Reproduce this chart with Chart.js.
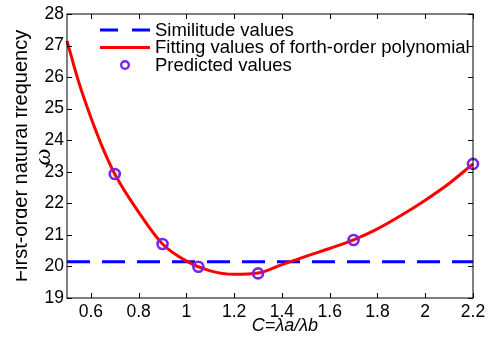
<!DOCTYPE html>
<html><head><meta charset="utf-8">
<script src="https://cdn.jsdelivr.net/npm/chart.js@4/dist/chart.umd.min.js"></script>
<style>html,body{margin:0;padding:0;background:#fff;overflow:hidden}#wrap{width:501px;height:341px;position:relative}canvas{display:block}</style>
</head><body><div id="wrap"><canvas id="c" width="501" height="341"></canvas></div>
<script>
// ---- data ----
const fitX = [0.5, 0.55, 0.6, 0.65, 0.7, 0.8, 0.9, 1.0, 1.1, 1.2, 1.3, 1.4, 1.5, 1.6, 1.7, 1.8, 1.9, 2.0, 2.1, 2.2];
const fitY = [27.15, 25.82, 24.72, 23.75, 22.93, 21.72, 20.71, 20.17, 19.86, 19.75, 19.79, 20.06, 20.32, 20.57, 20.84, 21.19, 21.62, 22.1, 22.63, 23.25];
const predX = [0.7, 0.9, 1.05, 1.3, 1.7, 2.2];
const predY = [22.93, 20.71, 19.99, 19.78, 20.84, 23.25];
const simX = [0.5, 2.2];
const simY = [20.15, 20.15];
const xTicks = [0.6, 0.8, 1, 1.2, 1.4, 1.6, 1.8, 2, 2.2];
const yTicks = [19, 20, 21, 22, 23, 24, 25, 26, 27, 28];
const legendLabels = ["Similitude values", "Fitting values of forth-order polynomial", "Predicted values"];
const xTitle = "C=\u03BBa/\u03BBb";
const yTitle = "First-order natural frequency";
const ySymbol = "\u03C9";

const FONT = "'Liberation Sans', Arial, sans-serif";
const BLUE = "#0000ff", RED = "#ff0000", PURPLE = "rgb(122,36,232)";

const toPts = (xs, ys) => xs.map((x, i) => ({x: x, y: ys[i]}));

const decor = {
  id: 'decor',
  afterDraw(chart) {
    const ctx = chart.ctx, a = chart.chartArea;
    const xs = chart.scales.x, ys = chart.scales.y;
    ctx.save();
    // box
    ctx.strokeStyle = '#000'; ctx.lineWidth = 1;
    ctx.strokeRect(a.left, a.top, a.right - a.left, a.bottom - a.top);
    // inner ticks
    const L = 5;
    ctx.beginPath();
    xTicks.forEach(v => {
      const px = Math.round(xs.getPixelForValue(v)) + 0.5;
      ctx.moveTo(px, a.bottom); ctx.lineTo(px, a.bottom - L);
      ctx.moveTo(px, a.top); ctx.lineTo(px, a.top + L);
    });
    yTicks.forEach(v => {
      const py = Math.round(ys.getPixelForValue(v)) + 0.5;
      ctx.moveTo(a.left, py); ctx.lineTo(a.left + L, py);
      ctx.moveTo(a.right, py); ctx.lineTo(a.right - L, py);
    });
    ctx.stroke();
    // legend
    const lx0 = 100, lx1 = 150, tx = 155;
    const rows = [30, 47.5, 65];
    ctx.lineWidth = 3;
    ctx.strokeStyle = BLUE; ctx.setLineDash([18, 14]);
    ctx.beginPath(); ctx.moveTo(lx0, rows[0]); ctx.lineTo(lx1, rows[0]); ctx.stroke();
    ctx.setLineDash([]);
    ctx.strokeStyle = RED;
    ctx.beginPath(); ctx.moveTo(lx0, rows[1]); ctx.lineTo(lx1, rows[1]); ctx.stroke();
    ctx.strokeStyle = PURPLE; ctx.lineWidth = 2.4;
    ctx.beginPath(); ctx.arc(125, rows[2], 3.8, 0, Math.PI * 2); ctx.stroke();
    ctx.fillStyle = '#000';
    ctx.font = "18.5px " + FONT;
    ctx.textBaseline = 'alphabetic'; ctx.textAlign = 'left';
    legendLabels.forEach((t, i) => ctx.fillText(t, tx, rows[i] + 5.5));
    // x title
    ctx.font = "italic 18px " + FONT;
    ctx.textAlign = 'center'; ctx.textBaseline = 'middle';
    ctx.fillText(xTitle, 285, 326);
    // y title (clipped as in the reference)
    ctx.save();
    ctx.beginPath(); ctx.rect(16, 0, 40, 341); ctx.clip();
    ctx.translate(27, 156); ctx.rotate(-Math.PI / 2);
    ctx.font = "20px " + FONT; ctx.textAlign = 'center'; ctx.textBaseline = 'alphabetic';
    ctx.fillText(yTitle, 0, 0);
    ctx.restore();
    // omega symbol
    ctx.save();
    ctx.translate(50, 157); ctx.rotate(-Math.PI / 2);
    ctx.font = "italic 24px 'Liberation Serif', serif"; ctx.textAlign = 'center'; ctx.textBaseline = 'alphabetic';
    ctx.fillText(ySymbol, 0, 0);
    ctx.restore();
    ctx.restore();
  }
};

new Chart(document.getElementById('c'), {
  type: 'scatter',
  data: {
    datasets: [
      { label: legendLabels[2], data: toPts(predX, predY), showLine: false,
        pointRadius: 5, pointBorderWidth: 2.6, pointBorderColor: PURPLE,
        pointBackgroundColor: 'rgba(0,0,0,0)', clip: false },
      { label: legendLabels[1], data: toPts(fitX, fitY), showLine: true,
        borderColor: RED, borderWidth: 3, pointRadius: 0, cubicInterpolationMode: 'monotone', clip: false },
      { label: legendLabels[0], data: toPts(simX, simY), showLine: true,
        borderColor: BLUE, borderWidth: 3, borderDash: [23, 12], pointRadius: 0, clip: false }
    ]
  },
  options: {
    responsive: false, animation: false, devicePixelRatio: 1,
    layout: { padding: { left: 0, top: 14, right: 28, bottom: 0 } },
    plugins: { legend: { display: false }, tooltip: { enabled: false }, title: { display: false } },
    scales: {
      x: {
        type: 'linear', min: 0.5, max: 2.2,
        afterBuildTicks: s => { s.ticks = xTicks.map(v => ({ value: v })); },
        afterFit: s => { s.height = 43; },
        ticks: { color: '#000', font: { family: FONT, size: 17.5 }, padding: 4, maxRotation: 0, autoSkip: false,
                 callback: v => String(v) },
        grid: { display: false, drawTicks: false }, border: { display: false }
      },
      y: {
        type: 'linear', min: 19, max: 28,
        afterBuildTicks: s => { s.ticks = yTicks.map(v => ({ value: v })); },
        afterFit: s => { s.width = 67; },
        ticks: { color: '#000', font: { family: FONT, size: 17.5 }, padding: 3, autoSkip: false,
                 callback: v => String(v) },
        grid: { display: false, drawTicks: false }, border: { display: false }
      }
    }
  },
  plugins: [decor]
});
</script></body></html>
